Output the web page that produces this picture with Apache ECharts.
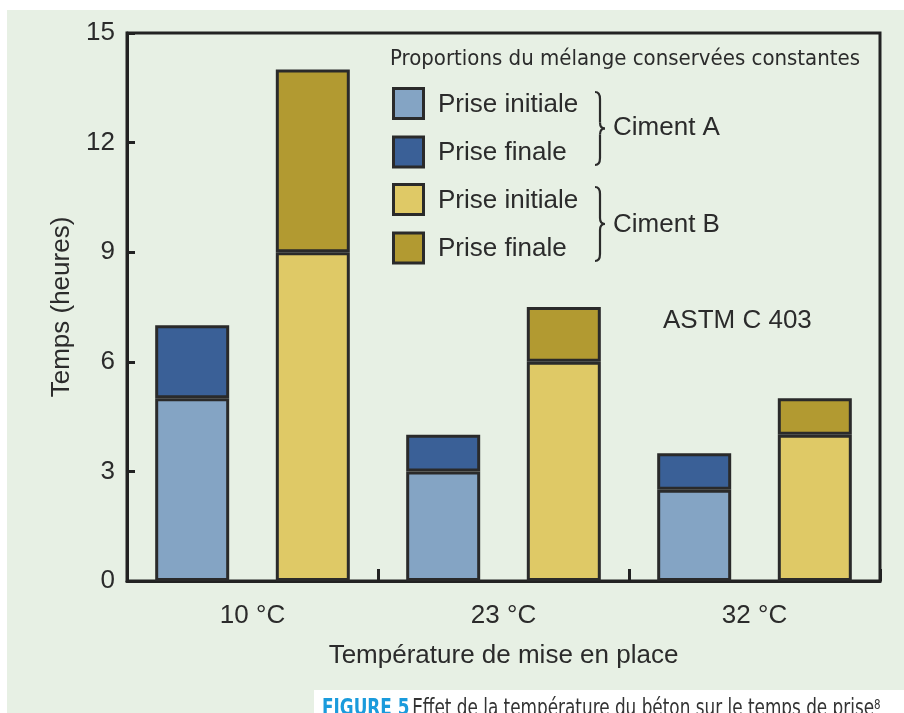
<!DOCTYPE html>
<html>
<head>
<meta charset="utf-8">
<script src="https://cdn.jsdelivr.net/npm/echarts@6/dist/echarts.min.js"></script>
<style>
html,body{margin:0;padding:0;background:#fff;}
#c{width:904px;height:713px;}
</style>
</head>
<body>
<div id="c"></div>
<script>
// ---- data ----
const categories = ['10 °C', '23 °C', '32 °C'];
const cimentA_initiale = [5, 3, 2.5];
const cimentA_finale = [7, 4, 3.5];
const cimentB_initiale = [9, 6, 4];
const cimentB_finale = [14, 7.5, 5];
const yTicks = [0, 3, 6, 9, 12, 15];

const FONT = "'Liberation Sans', Arial, sans-serif";
const NARROW = "'Liberation Sans Narrow', 'DejaVu Sans Condensed', sans-serif";
const colors = {
  aInit: '#84a4c4', aFin: '#3a6097', bInit: '#dfc966', bFin: '#b29a31'
};
const border = '#2a2a2a';

const chart = echarts.init(document.getElementById('c'));

function barSeries(name, stack, data, color) {
  return {
    name: name, type: 'bar', stack: stack, data: data,
    barWidth: 74, barGap: '63%',
    itemStyle: { color: color, borderColor: border, borderWidth: 3 },
    emphasis: { disabled: true }
  };
}

const finA = cimentA_finale.map((v, i) => v - cimentA_initiale[i]);
const finB = cimentB_finale.map((v, i) => v - cimentB_initiale[i]);

function legendRow(y, color, label) {
  return [
    { type: 'rect', shape: { x: 393.5, y: y - 15, width: 30, height: 30 },
      style: { fill: color, stroke: border, lineWidth: 3 }, z: 10 },
    { type: 'text', x: 438, y: y + 1, style: { text: label, font: '26px ' + FONT, fill: '#2b2b2b', textVerticalAlign: 'middle' }, z: 10 }
  ];
}
function brace(x0, y0, y1) {
  const ym = (y0 + y1) / 2;
  const xb = x0 + 5, xt = x0 + 10;
  const st = { stroke: '#2b2b2b', lineWidth: 2.2, fill: null };
  return [
    { type: 'bezierCurve', z: 10, shape: { x1: x0, y1: y0, cpx1: xb, cpy1: y0, x2: xb, y2: y0 + 7 }, style: st },
    { type: 'line', z: 10, shape: { x1: xb, y1: y0 + 7, x2: xb, y2: ym - 6 }, style: st },
    { type: 'bezierCurve', z: 10, shape: { x1: xb, y1: ym - 6, cpx1: xb, cpy1: ym, x2: xt, y2: ym }, style: st },
    { type: 'bezierCurve', z: 10, shape: { x1: xt, y1: ym, cpx1: xb, cpy1: ym, x2: xb, y2: ym + 6 }, style: st },
    { type: 'line', z: 10, shape: { x1: xb, y1: ym + 6, x2: xb, y2: y1 - 7 }, style: st },
    { type: 'bezierCurve', z: 10, shape: { x1: xb, y1: y1 - 7, cpx1: xb, cpy1: y1, x2: x0, y2: y1 }, style: st }
  ];
}

const graphics = [
  { type: 'rect', z: -100, silent: true, shape: { x: 7, y: 10, width: 897, height: 703 }, style: { fill: '#e7f0e4' } },
  { type: 'text', x: 390, y: 59, z: 10, style: { text: 'Proportions du mélange conservées constantes', font: '22px ' + NARROW, fill: '#2b2b2b', textVerticalAlign: 'middle' } },
  ...legendRow(103.5, colors.aInit, 'Prise initiale'),
  ...legendRow(152, colors.aFin, 'Prise finale'),
  ...legendRow(199.5, colors.bInit, 'Prise initiale'),
  ...legendRow(248, colors.bFin, 'Prise finale'),
  ...brace(595, 92, 165),
  ...brace(595, 187, 261),
  { type: 'text', x: 613, y: 128, z: 10, style: { text: 'Ciment A', font: '26px ' + FONT, fill: '#2b2b2b', textVerticalAlign: 'middle' } },
  { type: 'text', x: 613, y: 225, z: 10, style: { text: 'Ciment B', font: '26px ' + FONT, fill: '#2b2b2b', textVerticalAlign: 'middle' } },
  { type: 'text', x: 663, y: 321, z: 10, style: { text: 'ASTM C 403', font: '26px ' + FONT, fill: '#2b2b2b', textVerticalAlign: 'middle' } },
  { type: 'rect', z: 20, silent: true, shape: { x: 314, y: 690, width: 590, height: 23 }, style: { fill: '#ffffff' } },
  { type: 'text', x: 322, y: 698, z: 21, scaleX: 0.815, style: {
      text: '{f|FIGURE 5} {t|Effet de la température du béton sur le temps de prise}{s|8}',
      textVerticalAlign: 'top',
      rich: {
        f: { font: 'bold 23px ' + NARROW, fill: '#1a9bdc' },
        t: { font: '23px ' + NARROW, fill: '#333333' },
        s: { font: '14px ' + NARROW, fill: '#333333', verticalAlign: 'top' }
      } } }
];

chart.setOption({
  backgroundColor: '#ffffff',
  animation: false,
  grid: { left: 127, right: 24, top: 33, bottom: 132, show: true, borderColor: '#222', borderWidth: 3, backgroundColor: 'transparent' },
  xAxis: {
    type: 'category', data: categories,
    name: 'Température de mise en place', nameLocation: 'middle', nameGap: 62,
    nameTextStyle: { fontSize: 26, fontFamily: FONT, color: '#2b2b2b' },
    axisLine: { show: true, lineStyle: { color: '#222', width: 3 } },
    axisTick: { show: true, inside: true, length: 12, lineStyle: { color: '#222', width: 3 } },
    axisLabel: { fontSize: 26, fontFamily: FONT, color: '#2b2b2b', margin: 22 }
  },
  yAxis: {
    type: 'value', min: yTicks[0], max: yTicks[yTicks.length - 1], interval: 3,
    name: 'Temps (heures)', nameLocation: 'middle', nameGap: 42,
    nameTextStyle: { fontSize: 26, fontFamily: FONT, color: '#2b2b2b' },
    axisLine: { show: true, lineStyle: { color: '#222', width: 3 } },
    axisTick: { show: true, inside: true, length: 8, lineStyle: { color: '#222', width: 3 } },
    axisLabel: { fontSize: 26, fontFamily: FONT, color: '#2b2b2b', margin: 12, padding: [8, 0, 0, 0] },
    splitLine: { show: false }
  },
  series: [
    barSeries('Ciment A – Prise initiale', 'A', cimentA_initiale, colors.aInit),
    barSeries('Ciment A – Prise finale', 'A', finA, colors.aFin),
    barSeries('Ciment B – Prise initiale', 'B', cimentB_initiale, colors.bInit),
    barSeries('Ciment B – Prise finale', 'B', finB, colors.bFin)
  ],
  graphic: graphics
});
</script>
</body>
</html>
